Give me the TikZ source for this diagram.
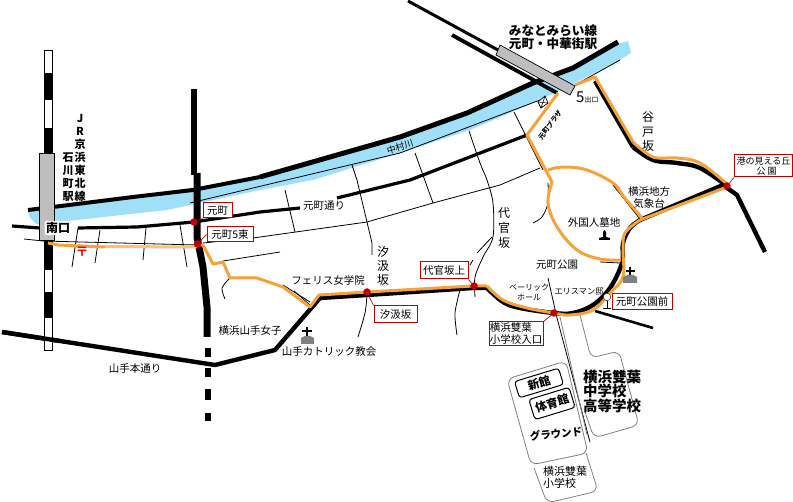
\documentclass[tikz,border=0pt]{standalone}
\usepackage{fontspec}
\setmainfont{Noto Sans CJK JP}
\usetikzlibrary{calc}
\definecolor{riverc}{HTML}{A0DFF8}
\definecolor{orangec}{HTML}{F5A23A}
\definecolor{lightorange}{HTML}{FBC27F}
\definecolor{redc}{HTML}{C00000}
\definecolor{greyc}{HTML}{BEBEBE}
\definecolor{darkg}{HTML}{808080}
\tikzset{
 thin road/.style={draw=black,line width=0.8pt},
 heavy road/.style={draw=black,line width=4.4pt,line join=round},
 orange road/.style={draw=orangec,line width=3pt,line join=round},
 outline/.style={draw=darkg,line width=0.8pt,rounded corners=7pt},
 lab/.style={inner sep=0pt,font=\fontsize{10.5}{12}\selectfont,align=center},
 blab/.style={inner sep=0pt,font=\fontsize{11}{13}\selectfont\bfseries,align=center},
 redbox/.style={draw=redc,line width=1pt,fill=white,inner sep=0pt,font=\fontsize{10.5}{12}\selectfont,align=center},
 spot/.style={circle,fill=redc,inner sep=0pt,minimum size=7.5pt},
 leader/.style={draw=redc,line width=0.7pt},
}
\begin{document}
\begin{tikzpicture}[x=1pt,y=-1pt]
\useasboundingbox (0,0) rectangle (793,502);
% river
\fill[riverc] (28,212) -- (133,197) -- (260,177) -- (400,137) -- (467,113) -- (533,83) -- (573,68) -- (618,44) -- (628,41) -- (631,53) -- (620,60) -- (573,84) -- (540,100) -- (470,130) -- (400,153) -- (313,180) -- (260,190) -- (167,210) -- (77,220) -- (36,224) -- (30,218) -- cycle;
% thin streets
\draw[thin road] (190,203) -- (400,153) -- (540,100);
\draw[thin road] (575,85) -- (620,60);
\draw[thin road] (24,239) -- (43,241) -- (197,245);
\draw[thin road] (78,228) -- (72,267);
\draw[thin road] (100,230) -- (95,263);
\draw[thin road] (146,228) -- (143,260);
\draw[thin road] (180,225) -- (187,267);
\draw[thin road] (203,243) -- (253,238) -- (367,222) -- (433,203) -- (500,185) -- (540,168);
\draw[thin road] (223,261) -- (280,252);
\draw[thin road] plot[smooth] coordinates {(230,278) (222,288) (225,299)};
\draw[thin road] (285,190) -- (295,232);
\draw[thin road] (352,165) -- (357,180) -- (367,222) -- (372,243) -- (372,255);
\draw[thin road] plot[smooth] coordinates {(367,295) (365,313) (358,337)};
\draw[thin road] (415,153) -- (433,203);
\draw[thin road] plot[smooth] coordinates {(469,131) (480,163) (487,180) (493,203) (493,237) (483,257) (475,277) (475,297)};
\draw[thin road] (492,237) -- (477,253);
\draw[thin road] (473,260) -- (470,265);
\draw[thin road] plot[smooth] coordinates {(460,290) (455,313) (457,335)};
\draw[thin road] (514,112) -- (543,170);
\draw[thin road] plot[smooth] coordinates {(548,183) (548,203) (542,217) (533,223)};
\draw[thin road] (548,278) -- (557,318) -- (590,442);
\draw[thin road] (600,262) -- (620,263);
\draw[thin road] (613,185) -- (640,219);
\draw[thin road] (283,285) -- (310,302);
\draw[thin road] (294,291) -- (310,305);
% school outlines
\draw[draw=darkg,line width=0.8pt] (560,317) -- (587,435);
\draw[outline] (580,315) -- (591,358) -- (619,351) -- (639,425) -- (594,438) -- (585,412);
\draw[outline] (566,361) -- (588,453) -- (531,465) -- (507,379) -- cycle;
\draw[outline] (586,453) -- (598,491) -- (547,503) -- (534,468);
% heavy roads
\draw[heavy road,line width=4pt] (28,210) -- (53,207) -- (133,197) -- (193,190) -- (260,177);
\draw[heavy road,line width=5pt] (260,177) -- (400,137) -- (467,113) -- (533,83) -- (573,68) -- (618,42);
\draw[heavy road,line width=3pt] (408,1) -- (498,50);
\draw[heavy road,line width=3.8pt] (452,35) -- (557,93);
\draw[heavy road,line width=3.2pt] (12,226) -- (40,228);
\draw[heavy road,line width=3.2pt] (78,228) -- (137,227) -- (194,222) -- (260,212) -- (300,208);
\draw[heavy road,line width=3.2pt] (337,198) -- (410,180) -- (527,135);
\draw[heavy road] (2,332) -- (215,365) -- (275,350) -- (320,298) -- (367,295) -- (473,288) -- (487,288);
\draw[heavy road,smooth] plot[smooth,tension=0.6] coordinates {(487,288) (503,302) (520,308) (554,313) (573,313) (593,305) (610,288) (622,263) (623,243) (630,228) (640,220)};
\draw[heavy road] (640,220) -- (723,185) -- (737,195) -- (765,252);
\draw[heavy road] (595,81) -- (633,147);
\draw[heavy road] plot[smooth,tension=0.6] coordinates {(633,147) (653,160) (677,163) (700,168) (727,186)};
\draw[heavy road,line width=2.6pt] (595,311) -- (653,328);
% vertical road
\draw[draw=black,line width=5.5pt] (194,89) -- (194,175);
\draw[draw=black,line width=7pt,line join=round] (197,173) -- (197,237) -- (203,267) -- (207,307) -- (207,337);
\foreach \ya/\yb in {348/357,368/377,389/400,413/421}
  \draw[draw=black,line width=5.5pt] (208,\ya) -- (208,\yb);
% JR line
\fill[white,draw=black,line width=0.8pt] (44,50) rectangle (52,350);
\foreach \ya/\yb in {73/100,128/153,240/270,292/318}
  \fill[black] (43.5,\ya) rectangle (52.5,\yb);
% the road over the line
\draw[heavy road] (2,332) -- (60,341);
% orange roads
\draw[orange road,draw=lightorange] (105,246.5) -- (197,247);
\draw[orange road] (48,243) -- (58,245) -- (105,247);
\draw[orange road] (198,245) -- (203,245) -- (213,264) -- (223,262) -- (230,278) -- (257,278) -- (283,287) -- (310,307) -- (319,295) -- (367,292) -- (473,286) -- (487,286);
\draw[orange road] plot[smooth,tension=0.6] coordinates {(487,286) (503,300) (527,308) (554,313) (570,315) (593,310) (610,293) (623,277) (623,250) (625,233) (640,220)};
\draw[orange road] (640,220) -- (727,187);
\draw[orange road] (575,85) -- (595,77) -- (633,142);
\draw[orange road] plot[smooth,tension=0.6] coordinates {(633,142) (653,157) (677,158) (700,163) (727,184)};
\draw[orange road] (558,93) -- (527,135) -- (552,182);
\draw[orange road] plot[smooth,tension=0.6] coordinates {(552,182) (548,203) (557,227) (577,250) (600,259) (621,260)};
\draw[orange road] plot[smooth,tension=0.6] coordinates {(548,170) (563,167) (587,170) (613,183) (624,197) (642,218)};
% station buildings
\fill[greyc,draw=black,line width=0.7pt] (39.5,153) rectangle (54.5,240);
\fill[greyc,draw=black,line width=0.7pt] (500,45) -- (575,86) -- (570,95) -- (496,55) -- cycle;
\node[fill=white,rounded corners=2pt,inner sep=1.5pt,font=\fontsize{12}{12}\selectfont\bfseries] (south) at (58,228) {南口};
% post box
\draw[black,line width=0.7pt,fill=white] (538,102) -- (545,96) -- (548,103) -- (541,108) -- cycle;
\draw[black,line width=0.5pt] (538,102) -- (548,103) (545,96) -- (541,108);
% symbols
\fill[darkg] (623,283) -- (623,277) -- (627,275) -- (633,275) -- (637,277) -- (637,283) -- cycle;
\draw[black,line width=1.2pt] (630,267) -- (630,275) (626,271) -- (635,271);
\fill[darkg] (301,344) -- (301,338) -- (305,336) -- (310,336) -- (314,338) -- (314,344) -- cycle;
\draw[black,line width=1.2pt] (307,327) -- (307,336) (302,331) -- (312,331);
\fill[black] (599,240) -- (599,238) -- (603,237) -- (603,232) -- (604.5,230) -- (606,232) -- (606,237) -- (610,238) -- (610,240) -- cycle;
\draw[black,line width=0.8pt] (607,301) -- (607,308) (603,308.5) -- (611,308.5);
\fill[white,draw=black,line width=0.4pt] (607,297) circle (3.8);
% stations and stops
\node[spot] (s1) at (194,222) {};
\node[spot] (s2) at (197.5,244) {};
\node[spot] (s3) at (367,292) {};
\node[spot] (s4) at (474,286) {};
\node[spot] (s5) at (554,313) {};
\node[spot] (s6) at (727,186) {};
% red label boxes
\node[redbox,minimum width=29pt,minimum height=15pt] (b1) at (217.5,210.5) {元町};
\node[redbox,minimum width=46pt,minimum height=15pt] (b2) at (230,234.5) {元町5東};
\node[redbox,minimum width=43pt,minimum height=17pt] (b3) at (395.5,314.5) {汐汲坂};
\node[redbox,minimum width=48pt,minimum height=17pt] (b4) at (444,270.5) {代官坂上};
\node[redbox,minimum width=54pt,minimum height=24pt,font=\fontsize{10.5}{12}\selectfont,align=left] (b5) at (516,334) {横浜雙葉\\小学校入口};
\node[redbox,minimum width=60pt,minimum height=16pt] (b6) at (642,302) {元町公園前};
\node[redbox,minimum width=58pt,minimum height=22pt,font=\fontsize{9}{10}\selectfont,align=center] (b7) at (763.5,166) {港の見える丘\\\ \ \ 公\ 園};
\draw[leader] (s1) -- (b1.south west);
\draw[leader] (s2) -- (b2.west);
\draw[leader] (s3) -- (b3.north west);
\draw[leader] (s4) -- (b4.south east);
\draw[leader] (s5) -- (b5.north east);
\draw[leader] (s6) -- (b7.south west);
% labels
\node[blab,font=\fontsize{11}{13}\selectfont\bfseries] (jr) at (80,157.5) {J\\R\\京\\浜\\東\\北\\線};
\node[blab,font=\fontsize{11}{13}\selectfont\bfseries] (ishi) at (68,177) {石\\川\\町\\駅};
\node[lab,rotate=17,font=\fontsize{9}{10}\selectfont] (nakamura) at (400,147) {中村川};
\node[blab,font=\fontsize{12.6}{13}\selectfont\bfseries] (mm) at (553,37) {みなとみらい線\\元町・中華街駅};
\node[lab,anchor=west] (exit) at (576,97) {\fontsize{15}{15}\selectfont 5\fontsize{7}{7}\selectfont 出口};
\node[lab,rotate=53,font=\fontsize{6.8}{8}\selectfont\bfseries] (plaza) at (550,125) {元町プラザ};
\node[lab,font=\fontsize{12}{14.5}\selectfont] (yato) at (648,132) {谷\\戸\\坂};
\node[lab] (kisho) at (649,198) {横浜地方\\気象台};
\node[lab] (gaikoku) at (594,223) {外国人墓地};
\node[lab] (koen) at (557,265) {元町公園};
\node[lab,font=\fontsize{8}{10}\selectfont] (berrick) at (529,292) {ベーリック\\ホール};
\node[lab,font=\fontsize{8.2}{10}\selectfont] (eris) at (579,291) {エリスマン邸};
\node[lab,font=\fontsize{12}{15}\selectfont] (daikan) at (504,228) {代\\官\\坂};
\node[lab,font=\fontsize{12}{14}\selectfont] (shio) at (383,266) {汐\\汲\\坂};
\node[lab] (dori) at (324,206) {元町通り};
\node[lab] (ferris) at (328,281) {フェリス女学院};
\node[lab] (joshi) at (250,331) {横浜山手女子};
\node[lab] (cath) at (329,352) {山手カトリック教会};
\node[lab] (hondori) at (135,369) {山手本通り};
\node[blab,font=\fontsize{14.5}{14.5}\selectfont\bfseries,align=left,anchor=west] (fj) at (583,391.5) {横浜雙葉\\中学校\\高等学校};
\node[draw=black,line width=1pt,fill=white,rounded corners=3pt,minimum width=46pt,minimum height=17pt,inner sep=0pt,rotate=17,font=\fontsize{11.5}{12}\selectfont\bfseries] (new) at (539,383) {新館};
\node[draw=black,line width=1pt,fill=white,rounded corners=3pt,minimum width=42pt,minimum height=21pt,inner sep=0pt,rotate=17,font=\fontsize{11.5}{12}\selectfont\bfseries] (gym) at (552,403.5) {体育館};
\node[blab,rotate=6,font=\fontsize{10.5}{12}\selectfont\bfseries] (ground) at (556,434) {グラウンド};
\node[lab,align=left,font=\fontsize{11}{12}\selectfont] (fs) at (565,477.5) {横浜雙葉\\小学校};
\node[text=red,inner sep=0pt,font=\fontsize{13}{13}\selectfont\bfseries] (post) at (82,252) {〒};
\end{tikzpicture}
\end{document}
